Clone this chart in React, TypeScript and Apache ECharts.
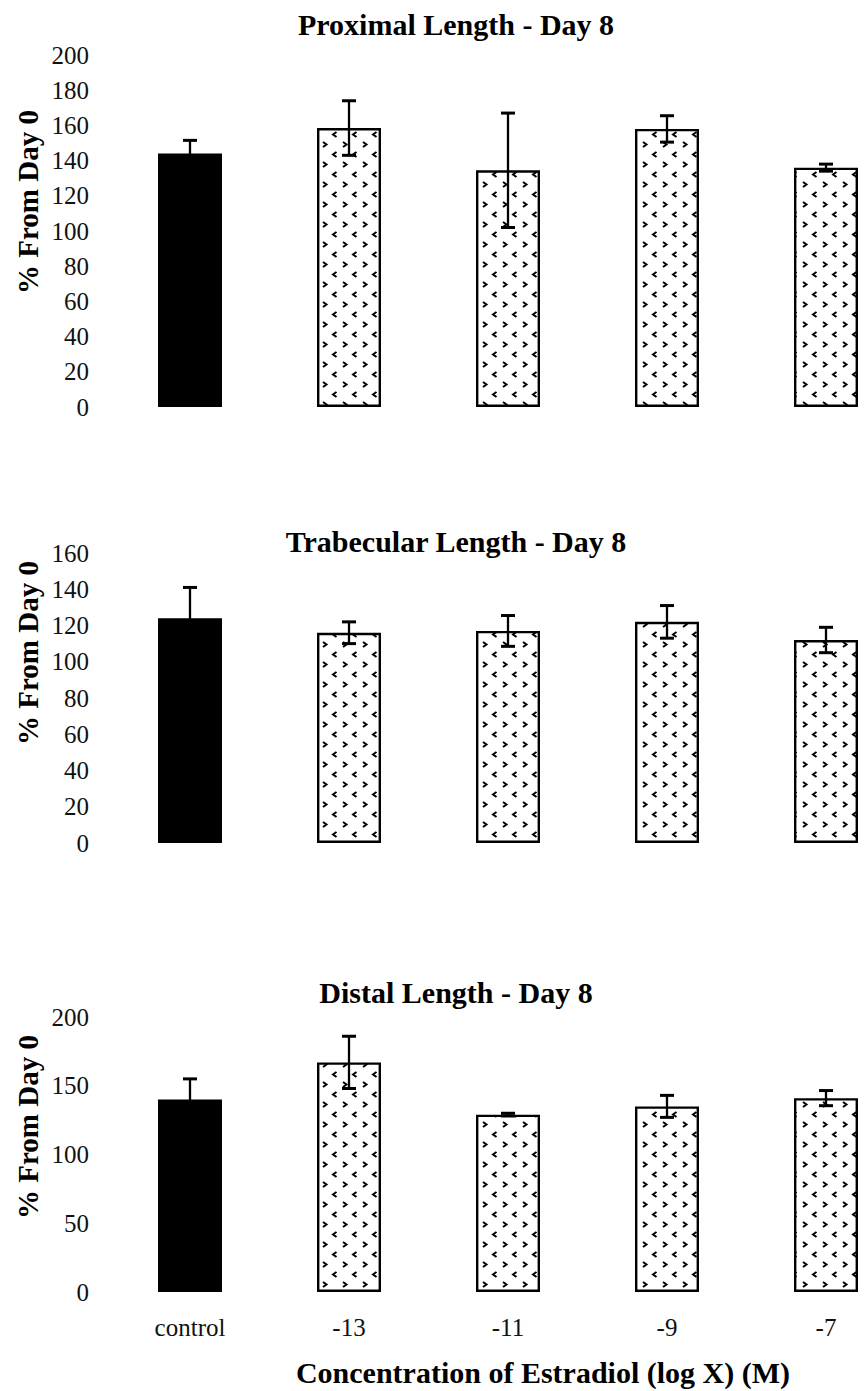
import React, { useEffect, useRef } from "react";
import * as echarts from "echarts";

// Estradiol concentration groups (log M), shared by all three panels
const categories = ["control", "-13", "-11", "-9", "-7"];

// Proximal length, day 8 (% of day 0): means and error half-widths
const proximalMean = [144, 158.5, 134.5, 158, 136];
const proximalErr = [7.5, 15.5, 32.5, 7.5, 2];

// Trabecular length, day 8
const trabecularMean = [124, 116, 117, 122, 112];
const trabecularErr = [17, 6, 8.5, 9, 7];

// Distal length, day 8
const distalMean = [140, 167, 129, 135, 141];
const distalErr = [15, 19, 1, 8, 5.5];

const panelTitles = [
  "Proximal Length - Day 8",
  "Trabecular Length - Day 8",
  "Distal Length - Day 8",
];
const yAxisTitle = "% From Day 0";
const xAxisTitle = "Concentration of Estradiol (log X) (M)";

const SERIF = '"Liberation Serif", "Times New Roman", "DejaVu Serif", serif';

// Small chevron tile used as the hatch fill of the treated groups
function makeChevronTile(): HTMLCanvasElement {
  const c = document.createElement("canvas");
  c.width = 20;
  c.height = 20;
  const ctx = c.getContext("2d")!;
  ctx.fillStyle = "#fff";
  ctx.fillRect(0, 0, 20, 20);
  ctx.strokeStyle = "#000";
  ctx.lineWidth = 2;
  ctx.lineJoin = "miter";
  ctx.beginPath();
  ctx.moveTo(3, 2);
  ctx.lineTo(6.5, 4.5);
  ctx.lineTo(3, 7);
  ctx.stroke();
  ctx.beginPath();
  ctx.moveTo(16.5, 12);
  ctx.lineTo(13, 14.5);
  ctx.lineTo(16.5, 17);
  ctx.stroke();
  return c;
}

export default function App() {
  const ref = useRef<HTMLDivElement>(null);

  useEffect(() => {
    document.body.style.margin = "0";
    const chart = echarts.init(ref.current!, null, { renderer: "svg" });
    const tile = makeChevronTile();
    const hatch: any = { image: tile, repeat: "repeat" };

    const panels = [
      { mean: proximalMean, err: proximalErr, max: 200, interval: 20, top: 55, bottom: 407, titleY: 24, nameY: 202 },
      { mean: trabecularMean, err: trabecularErr, max: 160, interval: 20, top: 553, bottom: 843, titleY: 541, nameY: 653 },
      { mean: distalMean, err: distalErr, max: 200, interval: 50, top: 1017, bottom: 1292, titleY: 992, nameY: 1127 },
    ];

    const grid = panels.map((p) => ({
      left: 190,
      right: 40,
      top: p.top,
      height: p.bottom - p.top,
    }));

    const xAxis = panels.map((_, i) => ({
      type: "category",
      gridIndex: i,
      data: categories,
      boundaryGap: false,
      axisLine: { show: false },
      axisTick: { show: false },
      splitLine: { show: false },
      axisLabel: {
        show: i === 2,
        fontFamily: SERIF,
        fontSize: 25,
        color: "#111",
        margin: 23,
      },
    }));

    const yAxis = panels.map((p, i) => ({
      type: "value",
      gridIndex: i,
      min: 0,
      max: p.max,
      interval: p.interval,
      axisLine: { show: false },
      axisTick: { show: false },
      splitLine: { show: false },
      axisLabel: {
        fontFamily: SERIF,
        fontSize: 25,
        color: "#111",
        margin: 101,
      },
    }));

    const series: any[] = [];
    panels.forEach((p, i) => {
      series.push({
        type: "bar",
        xAxisIndex: i,
        yAxisIndex: i,
        barWidth: 64,
        clip: false,
        data: p.mean.map((v, k) => ({
          value: v,
          itemStyle:
            k === 0
              ? { color: "#000", borderWidth: 0 }
              : { color: hatch, borderColor: "#000", borderWidth: 2.4 },
        })),
      });
      series.push({
        type: "custom",
        xAxisIndex: i,
        yAxisIndex: i,
        z: 5,
        encode: { x: 0, y: 1 },
        data: p.mean.map((v, k) => [k, v, p.err[k]]),
        renderItem: (_params: any, api: any) => {
          const x = api.value(0);
          const m = api.value(1);
          const e = api.value(2);
          const hi = api.coord([x, m + e]);
          const lo = api.coord([x, m - e]);
          const cap = 7;
          const st = { stroke: "#000", lineWidth: 2.3 };
          return {
            type: "group",
            children: [
              { type: "line", shape: { x1: hi[0], y1: hi[1], x2: lo[0], y2: lo[1] }, style: st },
              { type: "line", shape: { x1: hi[0] - cap, y1: hi[1], x2: hi[0] + cap, y2: hi[1] }, style: { ...st, lineWidth: 3 } },
              { type: "line", shape: { x1: lo[0] - cap, y1: lo[1], x2: lo[0] + cap, y2: lo[1] }, style: { ...st, lineWidth: 3 } },
            ],
          };
        },
      });
    });

    const graphic: any[] = [];
    panels.forEach((p, i) => {
      graphic.push({
        type: "text",
        x: 456,
        y: p.titleY,
        style: {
          text: panelTitles[i],
          font: `bold 30px ${SERIF}`,
          fill: "#000",
          textAlign: "center",
          textVerticalAlign: "middle",
        },
      });
      graphic.push({
        type: "text",
        x: 28,
        y: p.nameY,
        rotation: Math.PI / 2,
        style: {
          text: yAxisTitle,
          font: `bold 29px ${SERIF}`,
          fill: "#000",
          textAlign: "center",
          textVerticalAlign: "middle",
        },
      });
    });
    graphic.push({
      type: "text",
      x: 543,
      y: 1372,
      style: {
        text: xAxisTitle,
        font: `bold 30px ${SERIF}`,
        fill: "#000",
        textAlign: "center",
        textVerticalAlign: "middle",
      },
    });

    chart.setOption({
      animation: false,
      backgroundColor: "#fff",
      grid,
      xAxis,
      yAxis,
      series,
      graphic,
    });

    return () => {
      chart.dispose();
    };
  }, []);

  return <div ref={ref} style={{ width: 866, height: 1391 }} />;
}
